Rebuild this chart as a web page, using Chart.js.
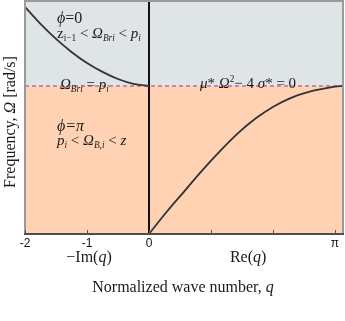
<!DOCTYPE html>
<html><head><meta charset="utf-8">
<script src="https://cdn.jsdelivr.net/npm/chart.js@4.4.1/dist/chart.umd.min.js"></script>
<style>html,body{margin:0;padding:0;background:#fff;}#wrap{width:345px;height:321px;}</style>
</head><body><div id="wrap"><canvas id="c" width="345" height="321"></canvas></div>
<script>
// x axis uses a display unit u: u = q for -Im(q) side, u = q*3/pi for Re(q) side
const tickValues = [-2, -1, 0, 1, 2, 3];
const tickLabels = ['-2', '-1', '0', '', '', 'π'];
const xMin = -2, xMax = 3.13;
const yMin = 0, yMax = 1.574;
const boundaryOmega = 1.0;
// left branch (-Im q)
const leftQ = [-2, -1.75, -1.5, -1.25, -1, -0.75, -0.5, -0.25, 0];
const leftOmega = [1.534, 1.419, 1.318, 1.230, 1.155, 1.095, 1.047, 1.014, 1.0];
// right branch (Re q, real units)
const rightQ = [0, 0.3, 0.6, 0.9, 1.2, 1.5, 1.8, 2.1, 2.4, 2.7, 3.0, 3.1416, 3.28];
const rightOmega = [0, 0.15, 0.29, 0.43, 0.56, 0.68, 0.78, 0.86, 0.92, 0.96, 0.985, 0.995, 1.0];

const toU = q => q * 3 / Math.PI;
const leftData = leftQ.map((q, i) => ({x: q, y: leftOmega[i]}));
const rightData = rightQ.map((q, i) => ({x: toU(q), y: rightOmega[i]}));

const SERIF = '"Liberation Serif", "DejaVu Serif", serif';
function drawRuns(ctx, x, y, runs, size) {
  let cx = x;
  for (const r of runs) {
    const fs = r.sub || r.sup ? size * 0.62 : size;
    ctx.font = (r.i ? 'italic ' : '') + fs + 'px ' + SERIF;
    const dy = r.sub ? size * 0.22 : (r.sup ? -size * 0.4 : 0);
    ctx.fillText(r.t, cx, y + dy);
    cx += ctx.measureText(r.t).width;
  }
  return cx - x;
}
function runsWidth(ctx, runs, size) {
  let w = 0;
  for (const r of runs) {
    const fs = r.sub || r.sup ? size * 0.62 : size;
    ctx.font = (r.i ? 'italic ' : '') + fs + 'px ' + SERIF;
    w += ctx.measureText(r.t).width;
  }
  return w;
}

const bgPlugin = {
  id: 'bg',
  beforeDatasetsDraw(chart) {
    const {ctx, chartArea: a, scales: {y}} = chart;
    const yb = y.getPixelForValue(boundaryOmega);
    ctx.save();
    ctx.fillStyle = '#dfe5e6';
    ctx.fillRect(a.left, a.top, a.right - a.left, yb - a.top);
    ctx.fillStyle = '#fed2b3';
    ctx.fillRect(a.left, yb, a.right - a.left, a.bottom - yb);
    ctx.restore();
  },
  afterDraw(chart) {
    const {ctx, chartArea: a, scales: {x, y}} = chart;
    ctx.save();
    // frame
    ctx.strokeStyle = '#9a9a9a'; ctx.lineWidth = 2;
    ctx.beginPath();
    ctx.moveTo(a.left, a.bottom); ctx.lineTo(a.left, a.top); ctx.lineTo(a.right, a.top); ctx.lineTo(a.right, a.bottom);
    ctx.stroke();
    ctx.strokeStyle = '#4d4d4d';
    ctx.beginPath(); ctx.moveTo(a.left - 1, a.bottom); ctx.lineTo(a.right + 1, a.bottom); ctx.stroke();
    // tick marks (inside)
    ctx.lineWidth = 1; ctx.strokeStyle = '#555';
    for (const v of tickValues) {
      const px = Math.round(x.getPixelForValue(v)) + 0.5;
      ctx.beginPath(); ctx.moveTo(px, a.bottom); ctx.lineTo(px, a.bottom - 4); ctx.stroke();
    }
    // annotations
    ctx.fillStyle = '#1a1a1a';
    ctx.textBaseline = 'alphabetic';
    ctx.textAlign = 'left';
    const X = v => x.getPixelForValue(v), Y = v => y.getPixelForValue(v);
    drawRuns(ctx, 57, 23, [{t:'ϕ', i:1}, {t:'=0'}], 16);
    drawRuns(ctx, 57, 38, [{t:'z'}, {t:'i−1', sub:1}, {t:' < '}, {t:'Ω', i:1}, {t:'Bri', sub:1, i:1}, {t:' < '}, {t:'p', i:1}, {t:'i', sub:1, i:1}], 15);
    drawRuns(ctx, 60, Y(boundaryOmega) + 3, [{t:'Ω', i:1}, {t:'Bri', sub:1, i:1}, {t:' = '}, {t:'p', i:1}, {t:'i', sub:1, i:1}], 15);
    drawRuns(ctx, 200, Y(boundaryOmega) + 2, [{t:'μ', i:1}, {t:'* '}, {t:'Ω', i:1}, {t:'2', sup:1}, {t:'− 4 '}, {t:'σ', i:1}, {t:'* = 0'}], 15);
    drawRuns(ctx, 57, 131, [{t:'ϕ', i:1}, {t:'=π', i:1}], 16);
    drawRuns(ctx, 57, 145, [{t:'p', i:1}, {t:'i', sub:1, i:1}, {t:' < '}, {t:'Ω', i:1}, {t:'B,i', sub:1, i:1}, {t:' < '}, {t:'z', i:1}], 15);
    // axis labels
    let r = [{t:'−Im('}, {t:'q', i:1}, {t:')'}];
    drawRuns(ctx, 89 - runsWidth(ctx, r, 16) / 2, 262, r, 16);
    r = [{t:'Re('}, {t:'q', i:1}, {t:')'}];
    drawRuns(ctx, X(1.6) - runsWidth(ctx, r, 16) / 2, 262, r, 16);
    r = [{t:'Normalized wave number, '}, {t:'q', i:1}];
    drawRuns(ctx, 183 - runsWidth(ctx, r, 16) / 2, 292, r, 16);
    // y title
    ctx.translate(15, 122);
    ctx.rotate(-Math.PI / 2);
    r = [{t:'Frequency, '}, {t:'Ω', i:1}, {t:' [rad/s]'}];
    drawRuns(ctx, -runsWidth(ctx, r, 16) / 2, 0, r, 16);
    ctx.restore();
  }
};

new Chart(document.getElementById('c'), {
  type: 'scatter',
  data: {
    datasets: [
      {data: leftData, showLine: true, borderColor: '#333', borderWidth: 1.8, pointRadius: 0, cubicInterpolationMode: 'monotone'},
      {data: rightData, showLine: true, borderColor: '#333', borderWidth: 1.8, pointRadius: 0, cubicInterpolationMode: 'monotone'},
      {data: [{x: xMin, y: boundaryOmega}, {x: xMax, y: boundaryOmega}], showLine: true, borderColor: '#b77199', borderWidth: 1.5, borderDash: [4, 3], pointRadius: 0},
      {data: [{x: 0, y: yMin}, {x: 0, y: yMax}], showLine: true, borderColor: '#111', borderWidth: 2, pointRadius: 0}
    ]
  },
  options: {
    responsive: false, animation: false,
    layout: {padding: {left: 25, right: 2, top: 1, bottom: 0}},
    plugins: {legend: {display: false}, tooltip: {enabled: false}},
    scales: {
      x: {
        type: 'linear', min: xMin, max: xMax,
        grid: {display: false, drawTicks: false}, border: {display: false},
        afterBuildTicks: s => { s.ticks = tickValues.map(v => ({value: v})); },
        afterFit: s => { s.height = 87; },
        ticks: {
          padding: 2, maxRotation: 0, autoSkip: false, color: '#111',
          font: {family: '"Liberation Sans", "DejaVu Sans", sans-serif', size: 12},
          callback: (v) => { const i = tickValues.indexOf(v); return i >= 0 ? tickLabels[i] : ''; }
        }
      },
      y: {type: 'linear', min: yMin, max: yMax, display: false}
    }
  },
  plugins: [bgPlugin]
});
</script></body></html>
